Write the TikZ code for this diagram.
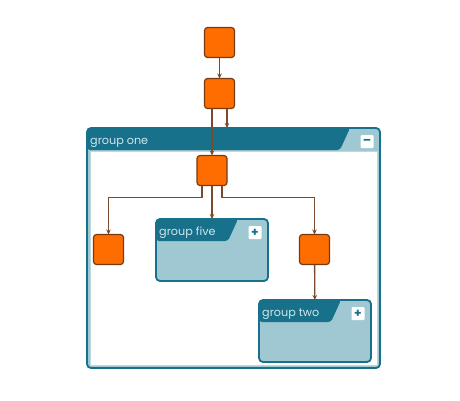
\documentclass[tikz,border=0pt]{standalone}
\usepackage{fontspec}
\newfontfamily\grpfont{Poppins}
\usetikzlibrary{arrows.meta}
\definecolor{nodeorange}{HTML}{FF6D00}
\definecolor{nodeborder}{HTML}{7A3A10}
\definecolor{edgebrown}{HTML}{7A4A2E}
\definecolor{grpteal}{HTML}{17718A}
\definecolor{grplight}{HTML}{A0C8D3}
\definecolor{grptext}{HTML}{D2E6EC}
\tikzstyle{leaf} = [rectangle, rounded corners=3pt, minimum width=30pt, minimum height=30pt, draw=nodeborder, fill=nodeorange, line width=1.2pt, outer sep=0pt]
\tikzstyle{group} = [rectangle, rounded corners=4pt, draw=grpteal, fill=grplight, line width=1.8pt, outer sep=0pt, inner sep=0pt, anchor=north west]
\tikzstyle{header} = [fill=grpteal, rounded corners=3pt]
\tikzstyle{grplabel} = [anchor=base west, text=grptext, font=\grpfont\fontsize{11.2}{12}\selectfont, inner sep=0pt]
\tikzstyle{toggle} = [rectangle, rounded corners=1pt, fill=white, minimum size=13pt, inner sep=0pt, text=grpteal, font=\grpfont\bfseries\fontsize{12}{12}\selectfont]
\tikzstyle{arrow} = [draw=edgebrown, line width=1.3pt, -{Stealth[length=5pt,width=4.5pt]}]

\begin{document}
\begin{tikzpicture}[x=1pt, y=-1pt]
\useasboundingbox (0,0) rectangle (460,400);

% Groups
\node (g1) [group, minimum width=293pt, minimum height=240pt] at (87,128) {};
\begin{scope}
\clip[rounded corners=4pt] (g1.north west) rectangle (g1.south east);
\fill[header] (g1.north west) -- ([xshift=-30pt]g1.north east) -- ([xshift=-40pt,yshift=-22pt]g1.north east) -- ([yshift=-22pt]g1.north west) -- cycle;
\end{scope}
\fill[white, draw=grplight!70] ([xshift=3pt,yshift=-23pt]g1.north west) rectangle ([xshift=-3pt,yshift=3pt]g1.south east);
\node (l1) [grplabel] at ([xshift=3pt,yshift=-16.5pt]g1.north west) {group one};
\node (b1) [toggle] at ([xshift=-13pt,yshift=-13.5pt]g1.north east) {–};

\node (g5) [group, minimum width=112pt, minimum height=62pt] at (156,219) {};
\begin{scope}
\clip[rounded corners=4pt] (g5.north west) rectangle (g5.south east);
\fill[header] (g5.north west) -- ([xshift=-30pt]g5.north east) -- ([xshift=-40pt,yshift=-22pt]g5.north east) -- ([yshift=-22pt]g5.north west) -- cycle;
\end{scope}
\node (l5) [grplabel] at ([xshift=3pt,yshift=-16.5pt]g5.north west) {group five};
\node (b5) [toggle] at ([xshift=-13pt,yshift=-13.5pt]g5.north east) {+};

\node (g2) [group, minimum width=112pt, minimum height=62pt] at (259,300) {};
\begin{scope}
\clip[rounded corners=4pt] (g2.north west) rectangle (g2.south east);
\fill[header] (g2.north west) -- ([xshift=-30pt]g2.north east) -- ([xshift=-40pt,yshift=-22pt]g2.north east) -- ([yshift=-22pt]g2.north west) -- cycle;
\end{scope}
\node (l2) [grplabel] at ([xshift=3pt,yshift=-16.5pt]g2.north west) {group two};
\node (b2) [toggle] at ([xshift=-13pt,yshift=-13.5pt]g2.north east) {+};

% Nodes
\node (n1) [leaf] at (219.5,42.5) {};
\node (n2) [leaf] at (219.5,93.5) {};
\node (n3) [leaf] at (212,170.5) {};
\node (n4) [leaf] at (108.5,249.5) {};
\node (n5) [leaf] at (314.5,249.5) {};

% Arrows
\draw [arrow] (n1) -- (n2);
\draw [arrow] (n3.north |- n2.south) -- (n3.north);
\draw [arrow] ([xshift=7.5pt]n2.south) -- ([xshift=7.5pt]n2.south |- g1.north);
\draw [arrow] ([xshift=-10pt]n3.south) -- ++(0,12) -| (n4.north);
\draw [arrow] (n3) -- (g5);
\draw [arrow] ([xshift=10pt]n3.south) -- ++(0,12) -| (n5.north);
\draw [arrow] (n5) -- (g2);

\end{tikzpicture}
\end{document}
